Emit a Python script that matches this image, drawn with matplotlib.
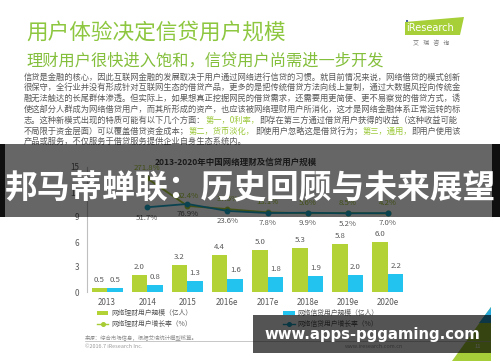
import matplotlib
matplotlib.use("Agg")
import matplotlib.pyplot as plt
from matplotlib.transforms import Affine2D
from matplotlib.patches import Rectangle, Polygon
from matplotlib.lines import Line2D
from matplotlib.text import Annotation

plt.rcParams['font.family'] = ['Noto Sans CJK SC', 'DejaVu Sans']

# ---------------- data ----------------
categories = ['2013', '2014', '2015', '2016e', '2017e', '2018e', '2019e', '2020e']
licai_users = [0.5, 2.0, 3.2, 4.4, 5.0, 5.3, 5.8, 6.0]
xindai_users = [0.5, 0.8, 1.3, 1.6, 1.8, 1.9, 2.0, 2.2]
growth_years = ['2014', '2015', '2016e', '2017e', '2018e', '2019e', '2020e']
licai_growth = [271.8, 62.4, 37.5, 13.1, 5.6, 8.5, 4.2]
xindai_growth = [51.7, 76.9, 23.6, 7.8, 9.9, 5.2, 7.0]
yticks = [0, 3, 6, 9, 12, 15]

title = '用户体验决定信贷用户规模'
subtitle = '理财用户很快进入饱和，信贷用户尚需进一步开发'
chart_title = '2013-2020年中国网络理财及信贷用户规模'
legend_labels = ['网络理财用户规模（亿人）', '网络理财用户增长率（%）',
                 '网络信贷用户规模（亿人）', '网络信贷用户增长率（%）']
paragraph = [
    [('信贷是金融的核心，因此互联网金融的发展取决于用户通过网络进行信贷的习惯。就目前情况来说，网络借贷的模式创新', 0)],
    [('很保守，全行业并没有形成针对互联网生态的借贷产品，更多的是把传统借贷方法向线上复制，通过大数据风控向传统金', 0)],
    [('融无法触达的长尾群体渗透。但实际上，如果想真正挖掘网民的借贷需求，还需要用更简便、更不易察觉的借贷方式，诱', 0)],
    [('使这部分人群成为网络借贷用户，而其所形成的资产，也应该被网络理财用户所消化，这才是网络金融体系正常运转的标', 0)],
    [('志。这种新模式出现的特质可能有以下几个方面：', 0), ('第一，0利率，', 1),
     ('即存在第三方通过借贷用户获得的收益（这种收益可能', 0)],
    [('不局限于资金层面）可以覆盖借贷资金成本；', 0), ('第二，货币淡化，', 1),
     ('即使用户忽略这是借贷行为；', 0), ('第三，通用，', 1), ('即用户使用该', 0)],
    [('产品或服务，不仅服务于借贷服务提供企业自身生态系统内。', 0)],
]
banner_text = '邦马蒂蝉联：历史回顾与未来展望'
url_text = 'www.apps-pggaming.com'

GREEN = '#b2d235'
BLUE = '#22c4ef'
GREEN_LINE = '#a8cc34'
BLUE_LINE = '#1aa6c8'
GRAY = '#595959'
TITLE_GREEN = '#8dc63f'

W, H = 500, 362
fig = plt.figure(figsize=(W / 100, H / 100), dpi=100)
fig.patch.set_facecolor('white')
T = Affine2D().scale(1 / W, -1 / H).translate(0, 1) + fig.transFigure

# ---------------- header ----------------
fig.text(26, 33, title, transform=T, color=TITLE_GREEN, fontsize=15.6, va='center', ha='left')
fig.text(26, 61, subtitle, transform=T, color='#84bf3c', fontsize=11.7, va='center', ha='left')

# logo
fig.add_artist(Polygon([(405, 22), (464, 17), (460, 35), (405, 35)], closed=True,
                       facecolor='#a6cf38', edgecolor='none', transform=T, zorder=2))
fig.text(406, 28, 'iResearch', transform=T, color='white', fontsize=7.0, va='center',
         ha='left', family=['DejaVu Sans'], zorder=3)
fig.text(407.5, 21.5, '•', transform=T, color='#1d3f8f', fontsize=5, va='center',
         ha='center', family=['DejaVu Sans'], zorder=4)
fig.text(431, 43, '艾   瑞   咨   询', transform=T, color='#777777', fontsize=4.3,
         va='center', ha='center')

# paragraph
for i, pieces in enumerate(paragraph):
    y = 77 + 10.8 * i
    last = None
    for txt, hl in pieces:
        col = '#9cc83a' if hl else GRAY
        if last is None:
            last = fig.text(24, y, txt, transform=T, color=col, fontsize=5.95,
                            va='center', ha='left')
        else:
            a = Annotation(txt, xy=(1, 0), xycoords=last, va='bottom', ha='left',
                           color=col, fontsize=5.95, annotation_clip=False)
            fig.add_artist(a)
            last = a

# ---------------- chart ----------------
ax = fig.add_axes([87 / W, (H - 292) / H, 321 / W, 125 / H])
ax.set_facecolor('none')
x = list(range(len(categories)))
bw = 0.385
ax.bar([i - bw / 2 for i in x], licai_users, width=bw, color=GREEN, zorder=2)
ax.bar([i + bw / 2 for i in x], xindai_users, width=bw, color=BLUE, zorder=2)
for i in x:
    ax.annotate(f'{licai_users[i]:.1f}', (i - bw / 2, licai_users[i]), xytext=(0, 3),
                textcoords='offset points', ha='center', va='bottom', fontsize=5.6, color=GRAY)
    ax.annotate(f'{xindai_users[i]:.1f}', (i + bw / 2, xindai_users[i]), xytext=(0, 3),
                textcoords='offset points', ha='center', va='bottom', fontsize=5.6, color=GRAY)
ax.set_xlim(-0.5, len(categories) - 0.5)
ax.set_ylim(0, 15)
ax.set_yticks(yticks)
ax.set_xticks(x)
ax.set_xticklabels(categories)
ax.tick_params(axis='both', length=0, labelsize=5.8, labelcolor=GRAY)
ax.tick_params(axis='x', pad=4.3)
ax.tick_params(axis='y', pad=5.5)
for s in ['top', 'right', 'bottom']:
    ax.spines[s].set_visible(False)
ax.spines['left'].set_color('#bfbfbf')
ax.spines['left'].set_linewidth(0.8)

ax2 = ax.twinx()
ax2.set_ylim(-595, 359)
ax2.axis('off')
gx = [categories.index(c) for c in growth_years]
ax2.plot(gx, licai_growth, color=GREEN_LINE, lw=1.3, marker='o', ms=3.2, zorder=3)
ax2.plot(gx, xindai_growth, color=BLUE_LINE, lw=1.3, marker='o', ms=3.2, zorder=4)
for xi, v in zip(gx, licai_growth):
    ax2.annotate(f'{v:.1f}%', (xi, v), xytext=(0, 4.5), textcoords='offset points',
                 ha='center', va='bottom', fontsize=5.6, color='#9cc332')
for xi, v in zip(gx, xindai_growth):
    ax2.annotate(f'{v:.1f}%', (xi, v), xytext=(0, -4.5), textcoords='offset points',
                 ha='center', va='top', fontsize=5.6, color=GRAY)

fig.text(236, 162, chart_title, transform=T, color='#404040', fontsize=6.1,
         fontweight='bold', ha='center', va='center', zorder=5)

# legend
fig.add_artist(Rectangle((97, 311.3), 11, 3.4, transform=T, facecolor=GREEN, edgecolor='none'))
fig.add_artist(Rectangle((283, 311.3), 12, 3.4, transform=T, facecolor=BLUE, edgecolor='none'))
fig.add_artist(Line2D([97, 108], [324, 324], transform=T, color=GREEN_LINE, lw=1.0))
fig.add_artist(Line2D([102.5], [324], transform=T, color=GREEN_LINE, marker='o', ms=2.6))
fig.add_artist(Line2D([283, 295], [324, 324], transform=T, color=BLUE_LINE, lw=1.0))
fig.add_artist(Line2D([289], [324], transform=T, color=BLUE_LINE, marker='o', ms=2.6))
fig.text(111, 313, legend_labels[0], transform=T, color=GRAY, fontsize=4.9, va='center')
fig.text(111, 324, legend_labels[1], transform=T, color=GRAY, fontsize=4.9, va='center')
fig.text(297, 313, legend_labels[2], transform=T, color=GRAY, fontsize=4.9, va='center')
fig.text(297, 324, legend_labels[3], transform=T, color=GRAY, fontsize=4.9, va='center')

# footer
fig.text(85, 337, '来源：综合市场信息，根据艾瑞统计模型核算。', transform=T, color='#8c8c8c',
         fontsize=3.9, va='center')
fig.add_artist(Line2D([85, 490], [341, 341], transform=T, color='#b0b0b0', lw=0.5))
fig.text(85, 347, '©2016.7 iResearch Inc.', transform=T, color='#9a9a9a', fontsize=3.9, va='center')
fig.text(345, 347, 'www.iresearch.com.cn', transform=T, color='#9a9a9a', fontsize=3.9, va='center')
fig.add_artist(Polygon([(452, 361), (491, 361), (491, 307)], closed=True, transform=T,
                       facecolor='#a6ce39', edgecolor='none'))
fig.add_artist(Polygon([(479, 323), (491, 307), (491, 323)], closed=True, transform=T,
                       facecolor='#2aa9d8', edgecolor='none'))
fig.text(478, 347, '11', transform=T, color='white', fontsize=4.2, va='center', ha='center')

# ---------------- overlays ----------------
fig.add_artist(Rectangle((0, 144), 500, 73, transform=T, facecolor='black', alpha=0.6,
                         edgecolor='none', zorder=10))
fig.add_artist(Rectangle((0, 144), 5, 73, transform=T, facecolor='black', alpha=0.85,
                         edgecolor='none', zorder=10))
fig.add_artist(Rectangle((492, 144), 8, 73, transform=T, facecolor='black', alpha=0.85,
                         edgecolor='none', zorder=10))
fig.text(250, 189, banner_text, transform=T, color='white', fontsize=23.6,
         fontweight='bold', ha='center', va='center', zorder=11)

fig.add_artist(Rectangle((253, 315), 238, 38, transform=T, facecolor='black', alpha=0.67,
                         edgecolor='none', zorder=10))
fig.text(372, 334, url_text, transform=T, color='white', fontsize=10.7,
         fontweight='bold', ha='center', va='center', zorder=11, family=['DejaVu Sans'])

fig.savefig('out.png', dpi=100, facecolor='white')
